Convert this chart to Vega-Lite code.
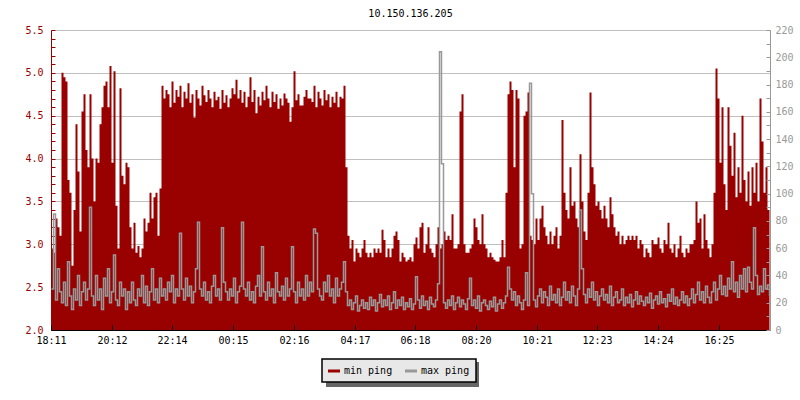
{
"$schema": "https://vega.github.io/schema/vega-lite/v6.json",
"width": 719,
"height": 300,
"autosize": {"type": "none"},
"padding": {"left": 51, "top": 30, "right": 30, "bottom": 70},
"background": "white",
"title": {"text": "10.150.136.205", "font": "DejaVu Sans Mono", "fontSize": 10, "fontWeight": "normal", "color": "black", "offset": 6},
"config": {
  "font": "DejaVu Sans Mono",
  "view": {"stroke": null},
  "axis": {"labelFont": "DejaVu Sans Mono", "labelFontSize": 10, "title": null, "labelOverlap": false, "labelBound": false, "labelFlush": false}
},
"data": {"values": [
{"m":0,"a":2.95,"b":30},{"m":4,"a":2.9,"b":85},{"m":8,"a":3.3,"b":22},{"m":12,"a":3.2,"b":45},{"m":16,"a":3.1,"b":28},{"m":20,"a":5.0,"b":20},{"m":24,"a":4.95,"b":35},{"m":28,"a":4.9,"b":18},{"m":32,"a":3.75,"b":50},{"m":36,"a":3.6,"b":25},
{"m":40,"a":2.75,"b":15},{"m":44,"a":3.4,"b":30},{"m":48,"a":4.4,"b":22},{"m":52,"a":3.85,"b":40},{"m":56,"a":3.15,"b":18},{"m":60,"a":4.55,"b":28},{"m":64,"a":4.75,"b":35},{"m":68,"a":4.1,"b":22},{"m":72,"a":3.9,"b":30},{"m":76,"a":4.75,"b":90},
{"m":80,"a":4.0,"b":25},{"m":84,"a":3.5,"b":18},{"m":88,"a":4.0,"b":40},{"m":92,"a":3.95,"b":22},{"m":96,"a":4.4,"b":30},{"m":100,"a":4.6,"b":15},{"m":104,"a":4.85,"b":38},{"m":108,"a":4.9,"b":25},{"m":112,"a":4.6,"b":45},{"m":116,"a":5.08,"b":20},
{"m":120,"a":3.95,"b":28},{"m":124,"a":5.02,"b":55},{"m":128,"a":3.45,"b":22},{"m":132,"a":2.95,"b":18},{"m":136,"a":4.82,"b":35},{"m":140,"a":3.8,"b":25},{"m":144,"a":3.7,"b":30},{"m":148,"a":3.95,"b":15},{"m":152,"a":3.9,"b":28},{"m":156,"a":3.2,"b":20},
{"m":160,"a":2.95,"b":35},{"m":164,"a":3.25,"b":22},{"m":168,"a":2.9,"b":18},{"m":172,"a":2.98,"b":30},{"m":176,"a":2.85,"b":25},{"m":180,"a":2.95,"b":40},{"m":184,"a":3.3,"b":20},{"m":188,"a":3.15,"b":32},{"m":192,"a":3.25,"b":18},{"m":196,"a":3.6,"b":28},
{"m":200,"a":3.3,"b":45},{"m":204,"a":3.55,"b":22},{"m":208,"a":3.6,"b":30},{"m":212,"a":3.1,"b":20},{"m":216,"a":3.65,"b":38},{"m":220,"a":4.85,"b":25},{"m":224,"a":4.7,"b":30},{"m":228,"a":4.8,"b":22},{"m":232,"a":4.75,"b":35},{"m":236,"a":4.6,"b":28},
{"m":240,"a":4.9,"b":40},{"m":244,"a":4.65,"b":20},{"m":248,"a":4.8,"b":30},{"m":252,"a":4.72,"b":25},{"m":256,"a":4.85,"b":71},{"m":260,"a":4.6,"b":30},{"m":264,"a":4.78,"b":22},{"m":268,"a":4.7,"b":38},{"m":272,"a":4.88,"b":25},{"m":276,"a":4.65,"b":32},
{"m":280,"a":4.75,"b":20},{"m":284,"a":4.48,"b":28},{"m":288,"a":4.8,"b":45},{"m":292,"a":4.7,"b":79},{"m":296,"a":4.62,"b":30},{"m":300,"a":4.85,"b":25},{"m":304,"a":4.74,"b":35},{"m":308,"a":4.66,"b":22},{"m":312,"a":4.8,"b":28},{"m":316,"a":4.7,"b":20},
{"m":320,"a":4.6,"b":32},{"m":324,"a":4.78,"b":40},{"m":328,"a":4.68,"b":25},{"m":332,"a":4.72,"b":30},{"m":336,"a":4.58,"b":22},{"m":340,"a":4.8,"b":75},{"m":344,"a":4.65,"b":35},{"m":348,"a":4.74,"b":28},{"m":352,"a":4.6,"b":22},{"m":356,"a":4.7,"b":30},
{"m":360,"a":4.82,"b":25},{"m":364,"a":4.75,"b":38},{"m":368,"a":4.92,"b":20},{"m":372,"a":4.7,"b":28},{"m":376,"a":4.8,"b":32},{"m":380,"a":4.65,"b":79},{"m":384,"a":4.78,"b":30},{"m":388,"a":4.6,"b":25},{"m":392,"a":4.72,"b":35},{"m":396,"a":4.95,"b":22},
{"m":400,"a":4.66,"b":28},{"m":404,"a":4.8,"b":20},{"m":408,"a":4.53,"b":32},{"m":412,"a":4.72,"b":40},{"m":416,"a":4.62,"b":25},{"m":420,"a":4.78,"b":61},{"m":424,"a":4.68,"b":28},{"m":428,"a":4.85,"b":22},{"m":432,"a":4.7,"b":35},{"m":436,"a":4.6,"b":25},
{"m":440,"a":4.78,"b":30},{"m":444,"a":4.66,"b":20},{"m":448,"a":4.75,"b":42},{"m":452,"a":4.58,"b":28},{"m":456,"a":4.7,"b":25},{"m":460,"a":4.62,"b":32},{"m":464,"a":4.76,"b":22},{"m":468,"a":4.7,"b":38},{"m":472,"a":4.65,"b":25},{"m":476,"a":4.43,"b":30},
{"m":480,"a":4.6,"b":61},{"m":484,"a":5.02,"b":28},{"m":488,"a":4.68,"b":20},{"m":492,"a":4.75,"b":35},{"m":496,"a":4.62,"b":25},{"m":500,"a":4.62,"b":30},{"m":504,"a":4.72,"b":22},{"m":508,"a":4.8,"b":40},{"m":512,"a":4.7,"b":25},{"m":516,"a":4.7,"b":35},
{"m":520,"a":4.66,"b":28},{"m":524,"a":4.85,"b":74},{"m":528,"a":4.6,"b":71},{"m":532,"a":4.78,"b":30},{"m":536,"a":4.7,"b":25},{"m":540,"a":4.62,"b":22},{"m":544,"a":4.8,"b":35},{"m":548,"a":4.68,"b":28},{"m":552,"a":4.75,"b":40},{"m":556,"a":4.6,"b":25},
{"m":560,"a":4.72,"b":30},{"m":564,"a":4.65,"b":20},{"m":568,"a":4.78,"b":38},{"m":572,"a":4.6,"b":25},{"m":576,"a":4.72,"b":30},{"m":580,"a":4.7,"b":35},{"m":584,"a":4.85,"b":50},{"m":588,"a":3.9,"b":28},{"m":592,"a":3.1,"b":18},{"m":596,"a":2.95,"b":22},
{"m":600,"a":3.05,"b":15},{"m":604,"a":2.8,"b":20},{"m":608,"a":2.95,"b":25},{"m":612,"a":2.9,"b":14},{"m":616,"a":2.85,"b":18},{"m":620,"a":2.95,"b":22},{"m":624,"a":3.05,"b":16},{"m":628,"a":2.9,"b":20},{"m":632,"a":2.85,"b":15},{"m":636,"a":2.9,"b":24},
{"m":640,"a":2.85,"b":18},{"m":644,"a":2.95,"b":22},{"m":648,"a":2.9,"b":14},{"m":652,"a":2.95,"b":20},{"m":656,"a":2.9,"b":26},{"m":660,"a":3.17,"b":17},{"m":664,"a":3.05,"b":22},{"m":668,"a":2.85,"b":18},{"m":672,"a":2.95,"b":25},{"m":676,"a":2.85,"b":15},
{"m":680,"a":2.95,"b":20},{"m":684,"a":3.1,"b":28},{"m":688,"a":3.15,"b":16},{"m":692,"a":3.05,"b":22},{"m":696,"a":2.8,"b":18},{"m":700,"a":2.9,"b":24},{"m":704,"a":2.85,"b":15},{"m":708,"a":2.8,"b":20},{"m":712,"a":2.82,"b":17},{"m":716,"a":2.85,"b":23},
{"m":720,"a":2.8,"b":15},{"m":724,"a":3.0,"b":19},{"m":728,"a":3.08,"b":39},{"m":732,"a":2.95,"b":22},{"m":736,"a":3.2,"b":16},{"m":740,"a":3.25,"b":25},{"m":744,"a":2.9,"b":18},{"m":748,"a":3.0,"b":21},{"m":752,"a":3.2,"b":15},{"m":756,"a":2.95,"b":24},
{"m":760,"a":2.9,"b":19},{"m":764,"a":2.85,"b":17},{"m":768,"a":3.0,"b":22},{"m":772,"a":3.2,"b":34},{"m":776,"a":2.95,"b":204},{"m":780,"a":3.0,"b":122},{"m":784,"a":3.15,"b":20},{"m":788,"a":3.05,"b":16},{"m":792,"a":3.1,"b":22},{"m":796,"a":3.05,"b":18},
{"m":800,"a":3.35,"b":25},{"m":804,"a":2.95,"b":15},{"m":808,"a":2.95,"b":20},{"m":812,"a":3.0,"b":24},{"m":816,"a":4.55,"b":17},{"m":820,"a":4.75,"b":22},{"m":824,"a":3.0,"b":19},{"m":828,"a":2.9,"b":15},{"m":832,"a":2.9,"b":23},{"m":836,"a":2.95,"b":38},
{"m":840,"a":3.0,"b":18},{"m":844,"a":3.3,"b":22},{"m":848,"a":3.2,"b":16},{"m":852,"a":3.05,"b":25},{"m":856,"a":3.0,"b":14},{"m":860,"a":3.35,"b":20},{"m":864,"a":3.0,"b":22},{"m":868,"a":2.95,"b":18},{"m":872,"a":2.85,"b":15},{"m":876,"a":2.9,"b":21},
{"m":880,"a":2.85,"b":17},{"m":884,"a":2.82,"b":24},{"m":888,"a":2.8,"b":14},{"m":892,"a":2.8,"b":19},{"m":896,"a":2.85,"b":22},{"m":900,"a":3.05,"b":16},{"m":904,"a":2.85,"b":20},{"m":908,"a":3.6,"b":25},{"m":912,"a":4.75,"b":46},{"m":916,"a":4.9,"b":30},
{"m":920,"a":4.8,"b":22},{"m":924,"a":3.9,"b":28},{"m":928,"a":4.8,"b":18},{"m":932,"a":4.7,"b":25},{"m":936,"a":2.95,"b":20},{"m":940,"a":3.0,"b":15},{"m":944,"a":4.5,"b":22},{"m":948,"a":4.55,"b":42},{"m":952,"a":4.77,"b":18},{"m":956,"a":3.1,"b":181},
{"m":960,"a":3.05,"b":100},{"m":964,"a":3.0,"b":22},{"m":968,"a":3.3,"b":17},{"m":972,"a":3.05,"b":25},{"m":976,"a":3.3,"b":30},{"m":980,"a":3.45,"b":20},{"m":984,"a":3.2,"b":28},{"m":988,"a":3.1,"b":24},{"m":992,"a":3.0,"b":18},{"m":996,"a":3.15,"b":32},
{"m":1000,"a":3.0,"b":22},{"m":1004,"a":3.1,"b":26},{"m":1008,"a":3.2,"b":20},{"m":1012,"a":2.95,"b":30},{"m":1016,"a":3.1,"b":18},{"m":1020,"a":4.45,"b":24},{"m":1024,"a":3.6,"b":35},{"m":1028,"a":3.4,"b":22},{"m":1032,"a":3.3,"b":28},{"m":1036,"a":3.9,"b":20},
{"m":1040,"a":3.45,"b":32},{"m":1044,"a":3.5,"b":25},{"m":1048,"a":3.3,"b":18},{"m":1052,"a":3.2,"b":30},{"m":1056,"a":4.05,"b":88},{"m":1060,"a":3.5,"b":45},{"m":1064,"a":3.15,"b":26},{"m":1068,"a":3.05,"b":20},{"m":1072,"a":3.6,"b":30},{"m":1076,"a":4.77,"b":24},
{"m":1080,"a":3.9,"b":35},{"m":1084,"a":3.7,"b":22},{"m":1088,"a":3.45,"b":28},{"m":1092,"a":3.5,"b":18},{"m":1096,"a":3.4,"b":25},{"m":1100,"a":3.3,"b":30},{"m":1104,"a":3.45,"b":22},{"m":1108,"a":3.3,"b":26},{"m":1112,"a":3.2,"b":20},{"m":1116,"a":3.55,"b":32},
{"m":1120,"a":3.35,"b":18},{"m":1124,"a":3.2,"b":24},{"m":1128,"a":3.1,"b":28},{"m":1132,"a":3.15,"b":20},{"m":1136,"a":3.0,"b":22},{"m":1140,"a":3.1,"b":30},{"m":1144,"a":3.0,"b":18},{"m":1148,"a":3.05,"b":24},{"m":1152,"a":3.1,"b":20},{"m":1156,"a":3.05,"b":26},
{"m":1160,"a":3.1,"b":17},{"m":1164,"a":3.05,"b":22},{"m":1168,"a":3.1,"b":28},{"m":1172,"a":2.95,"b":19},{"m":1176,"a":3.05,"b":25},{"m":1180,"a":3.0,"b":21},{"m":1184,"a":2.85,"b":18},{"m":1188,"a":2.95,"b":24},{"m":1192,"a":2.9,"b":20},{"m":1196,"a":2.85,"b":27},
{"m":1200,"a":3.05,"b":16},{"m":1204,"a":3.0,"b":22},{"m":1208,"a":3.0,"b":25},{"m":1212,"a":3.08,"b":19},{"m":1216,"a":2.95,"b":28},{"m":1220,"a":2.9,"b":20},{"m":1224,"a":3.05,"b":23},{"m":1228,"a":3.0,"b":17},{"m":1232,"a":3.25,"b":26},{"m":1236,"a":2.95,"b":21},
{"m":1240,"a":2.9,"b":30},{"m":1244,"a":3.0,"b":19},{"m":1248,"a":2.85,"b":24},{"m":1252,"a":2.95,"b":18},{"m":1256,"a":3.1,"b":22},{"m":1260,"a":2.9,"b":28},{"m":1264,"a":2.85,"b":20},{"m":1268,"a":2.95,"b":25},{"m":1272,"a":2.9,"b":18},{"m":1276,"a":3.0,"b":23},
{"m":1280,"a":3.0,"b":30},{"m":1284,"a":3.05,"b":20},{"m":1288,"a":3.5,"b":26},{"m":1292,"a":3.25,"b":35},{"m":1296,"a":3.3,"b":22},{"m":1300,"a":2.95,"b":28},{"m":1304,"a":3.35,"b":20},{"m":1308,"a":3.05,"b":32},{"m":1312,"a":2.95,"b":24},{"m":1316,"a":2.85,"b":20},
{"m":1320,"a":3.0,"b":28},{"m":1324,"a":3.6,"b":35},{"m":1328,"a":5.05,"b":22},{"m":1332,"a":4.7,"b":30},{"m":1336,"a":3.95,"b":40},{"m":1340,"a":4.6,"b":26},{"m":1344,"a":3.7,"b":32},{"m":1348,"a":3.4,"b":25},{"m":1352,"a":4.6,"b":38},{"m":1356,"a":4.15,"b":30},
{"m":1360,"a":3.8,"b":50},{"m":1364,"a":4.3,"b":28},{"m":1368,"a":3.55,"b":35},{"m":1372,"a":3.9,"b":24},{"m":1376,"a":3.6,"b":40},{"m":1380,"a":4.5,"b":30},{"m":1384,"a":3.75,"b":45},{"m":1388,"a":3.5,"b":28},{"m":1392,"a":3.85,"b":46},{"m":1396,"a":3.45,"b":35},
{"m":1400,"a":3.9,"b":30},{"m":1404,"a":3.6,"b":75},{"m":1408,"a":3.95,"b":40},{"m":1412,"a":3.5,"b":26},{"m":1416,"a":4.7,"b":32},{"m":1420,"a":4.2,"b":28},{"m":1424,"a":3.6,"b":45},{"m":1428,"a":3.9,"b":30},{"m":1432,"a":3.4,"b":33},{"m":1436,"a":3.85,"b":25}
]},
"encoding": {
  "x": {"field": "m", "type": "quantitative",
    "scale": {"domain": [-1, 1437], "nice": false, "zero": false},
    "axis": {"values": [-1,121,241,363,485,607,727,849,971,1091,1213,1335],
      "labelExpr": "['18:11','20:12','22:14','00:15','02:16','04:17','06:18','08:20','10:21','12:23','14:24','16:25'][round((datum.value+1)/121.4)]",
      "grid": false, "tickSize": -5, "tickColor": "black", "domainColor": "black", "labelColor": "black", "labelPadding": 10, "zindex": 1}}
},
"layer": [
  {"mark": {"type": "area", "interpolate": "step-after", "clip": true},
   "encoding": {
     "y": {"field": "a", "type": "quantitative",
       "scale": {"domain": [2, 5.5], "nice": false, "zero": false},
       "axis": {"orient": "left",
         "values": [2,2.1,2.2,2.3,2.4,2.5,2.6,2.7,2.8,2.9,3,3.1,3.2,3.3,3.4,3.5,3.6,3.7,3.8,3.9,4,4.1,4.2,4.3,4.4,4.5,4.6,4.7,4.8,4.9,5,5.1,5.2,5.3,5.4,5.5],
         "labelExpr": "abs(datum.value*2 - round(datum.value*2)) < 0.01 ? format(datum.value, '.1f') : ''",
         "grid": true, "gridColor": "#c0c0c0",
         "gridOpacity": {"condition": {"test": "abs(datum.value*2 - round(datum.value*2)) < 0.01", "value": 1}, "value": 0},
         "tickSize": -4, "tickColor": "#990000", "domainColor": "#990000", "labelColor": "#990000", "labelPadding": 12}},
     "y2": {"datum": 2},
     "color": {"datum": "min ping", "type": "nominal",
       "scale": {"domain": ["min ping", "max ping"], "range": ["#990000", "#999999"]},
       "legend": {"title": null, "orient": "none", "legendX": 271, "legendY": 329, "direction": "horizontal", "zindex": 2,
         "fillColor": "#e8e8e8", "strokeColor": "black", "padding": 6,
         "labelFont": "DejaVu Sans Mono", "labelFontSize": 10, "labelColor": "black", "labelOffset": 4,
         "columnPadding": 12, "symbolType": "M-1,-0.25H1V0.25H-1Z", "symbolSize": 144, "symbolStrokeWidth": 0,
         "encode": {
           "legend": {"update": {"strokeWidth": {"value": 1.5}}},
           "labels": {"update": {"fill": {"value": "black"}}},
           "symbols": {"update": {"fill": {"scale": "color", "field": "value"}, "fillOpacity": {"value": 1}, "strokeWidth": {"value": 0}}}}}}
   }},
  {"mark": {"type": "line", "interpolate": "step-after", "strokeWidth": 1.5, "clip": true},
   "encoding": {
     "y": {"field": "b", "type": "quantitative",
       "scale": {"domain": [0, 220], "nice": false},
       "axis": {"orient": "right",
         "values": [0,10,20,30,40,50,60,70,80,90,100,110,120,130,140,150,160,170,180,190,200,210,220],
         "labelExpr": "datum.value % 20 === 0 ? datum.label : ''",
         "grid": false, "tickSize": -4, "tickColor": "#999999", "domainColor": "#999999", "labelColor": "#999999", "labelPadding": 9, "zindex": 1}},
     "color": {"datum": "max ping", "type": "nominal"}
   }},
  {"mark": {"type": "square", "opacity": 0, "size": 0},
   "encoding": {
     "fill": {"datum": 0, "type": "quantitative",
       "scale": {"domain": [0, 1], "range": ["#666666", "#666666"]},
       "legend": {"title": null, "orient": "none", "legendX": 275, "legendY": 332, "direction": "horizontal", "zindex": 1,
         "padding": 0, "gradientLength": 153, "gradientThickness": 25, "gradientStrokeWidth": 0,
         "labelOpacity": 0, "labelFontSize": 1, "tickCount": 2}}
   }}
],
"resolve": {"scale": {"y": "independent"}}
}
